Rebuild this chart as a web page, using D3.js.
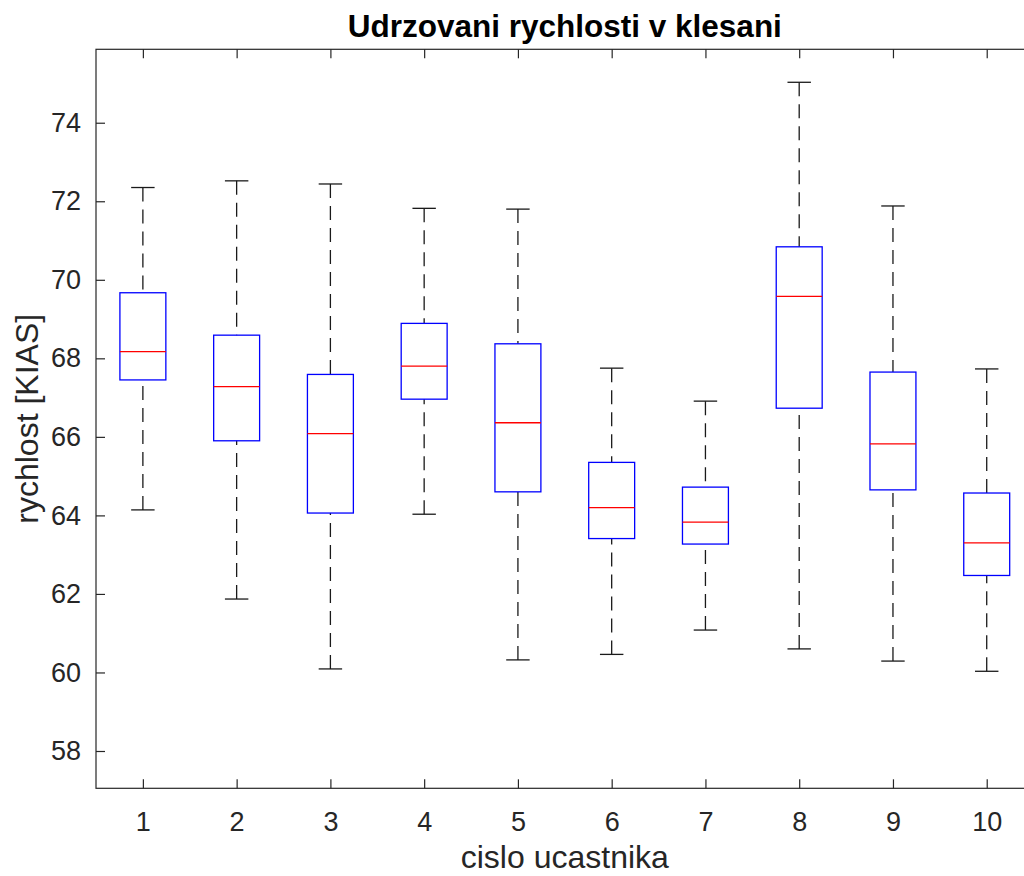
<!DOCTYPE html>
<html>
<head>
<meta charset="utf-8">
<script src="https://cdn.jsdelivr.net/npm/d3@7"></script>
<style>
  html, body { margin: 0; padding: 0; background: #fff; }
  svg { display: block; font-family: "Liberation Sans", Arial, Helvetica, sans-serif; }
</style>
</head>
<body>
<svg id="chart" width="1024" height="876"></svg>
<script>
// Participants (x categories) and box statistics (KIAS)
const participants = [1, 2, 3, 4, 5, 6, 7, 8, 9, 10];
const whiskerLow  = [64.14, 61.87, 60.09, 64.03, 60.32, 60.46, 61.08, 60.60, 60.29, 60.03];
const quartile1   = [67.45, 65.90, 64.06, 66.96, 64.60, 63.41, 63.27, 66.73, 64.65, 62.47];
const medians     = [68.17, 67.28, 66.08, 67.80, 66.36, 64.20, 63.83, 69.58, 65.82, 63.30];
const quartile3   = [69.67, 68.59, 67.59, 68.89, 68.37, 65.35, 64.72, 70.84, 67.65, 64.57];
const whiskerHigh = [72.35, 72.52, 72.44, 71.82, 71.80, 67.75, 66.91, 75.03, 71.88, 67.73];
const yTicks = [58, 60, 62, 64, 66, 68, 70, 72, 74];

const titleText = "Udrzovani rychlosti v klesani";
const xLabelText = "cislo ucastnika";
const yLabelText = "rychlost [KIAS]";

const svg = d3.select("#chart");
const axisColor = "#262626";
const tickFont = 27, labelFont = 32, titleFont = 31.5;

// Plot area
const plotLeft = 96, plotTop = 49.3, plotBottom = 788.3;
const x = d3.scaleLinear().domain([0.5, 10.5]).range([plotLeft, plotLeft + 937.6]);
const plotRight = x(10.5);
const y = d3.scaleLinear().domain([57.05, 75.87]).range([plotBottom, plotTop]);

const boxHalf = 0.245;   // box half-width in category units
const capHalf = 0.125;   // whisker cap half-width

const data = participants.map((p, i) => ({
  p, lo: whiskerLow[i], q1: quartile1[i], med: medians[i], q3: quartile3[i], hi: whiskerHigh[i]
}));

const g = svg.append("g");
const whiskerColor = "#1a1a1a";

// Whiskers (dashed)
g.selectAll("line.wu").data(data).join("line")
  .attr("x1", d => x(d.p)).attr("x2", d => x(d.p))
  .attr("y1", d => y(d.hi)).attr("y2", d => y(d.q3))
  .attr("stroke", whiskerColor).attr("stroke-width", 1.3).attr("stroke-dasharray", "14,8");
g.selectAll("line.wl").data(data).join("line")
  .attr("x1", d => x(d.p)).attr("x2", d => x(d.p))
  .attr("y1", d => y(d.lo)).attr("y2", d => y(d.q1))
  .attr("stroke", whiskerColor).attr("stroke-width", 1.3).attr("stroke-dasharray", "14,8");

// Whisker caps
["hi", "lo"].forEach(k => {
  g.selectAll("line.cap-" + k).data(data).join("line")
    .attr("x1", d => x(d.p - capHalf)).attr("x2", d => x(d.p + capHalf))
    .attr("y1", d => y(d[k])).attr("y2", d => y(d[k]))
    .attr("stroke", whiskerColor).attr("stroke-width", 1.3);
});

// Boxes
g.selectAll("rect.box").data(data).join("rect")
  .attr("x", d => x(d.p - boxHalf))
  .attr("width", d => x(d.p + boxHalf) - x(d.p - boxHalf))
  .attr("y", d => y(d.q3))
  .attr("height", d => y(d.q1) - y(d.q3))
  .attr("fill", "none").attr("stroke", "#0000ff").attr("stroke-width", 1.3);

// Medians
g.selectAll("line.med").data(data).join("line")
  .attr("x1", d => x(d.p - boxHalf)).attr("x2", d => x(d.p + boxHalf))
  .attr("y1", d => y(d.med)).attr("y2", d => y(d.med))
  .attr("stroke", "#ff0000").attr("stroke-width", 1.3);

// Axes box with inward ticks on all sides
const tickLen = 9;
const axes = svg.append("g").attr("stroke", axisColor).attr("stroke-width", 1.2).attr("fill", "none");
axes.append("rect").attr("x", plotLeft).attr("y", plotTop)
  .attr("width", plotRight - plotLeft).attr("height", plotBottom - plotTop);

const xPad = 831 - plotBottom - 0.71 * tickFont;
const xAxisB = d3.axisBottom(x).tickValues(participants).tickSize(-tickLen).tickPadding(xPad).tickFormat(d3.format("d"));
const xAxisT = d3.axisTop(x).tickValues(participants).tickSize(-tickLen).tickFormat("");
const yAxisL = d3.axisLeft(y).tickValues(yTicks).tickSize(-tickLen).tickPadding(15).tickFormat(d3.format("d"));
const yAxisR = d3.axisRight(y).tickValues(yTicks).tickSize(-tickLen).tickFormat("");

function styleAxis(sel) {
  sel.select(".domain").remove();
  sel.selectAll(".tick line").attr("stroke", axisColor).attr("stroke-width", 1.2);
  sel.selectAll(".tick text").attr("fill", axisColor).style("font-size", tickFont + "px")
     .style("font-family", "'Liberation Sans', Arial, sans-serif");
}
svg.append("g").attr("transform", `translate(0,${plotBottom})`).call(xAxisB).call(styleAxis);
svg.append("g").attr("transform", `translate(0,${plotTop})`).call(xAxisT).call(styleAxis);
svg.append("g").attr("transform", `translate(${plotLeft},0)`).call(yAxisL).call(styleAxis);
svg.append("g").attr("transform", `translate(${plotRight},0)`).call(yAxisR).call(styleAxis);

// Title and axis labels
const cx = (plotLeft + plotRight) / 2;
svg.append("text").attr("x", cx).attr("y", 37).attr("text-anchor", "middle")
  .attr("fill", "#000").style("font-size", titleFont + "px").style("font-weight", "bold").text(titleText);
svg.append("text").attr("x", cx).attr("y", 868).attr("text-anchor", "middle")
  .attr("fill", axisColor).style("font-size", labelFont + "px").text(xLabelText);
svg.append("text").attr("transform", `translate(38,${(plotTop + plotBottom) / 2}) rotate(-90)`)
  .attr("text-anchor", "middle").attr("fill", axisColor).style("font-size", labelFont + "px").text(yLabelText);
</script>
</body>
</html>
